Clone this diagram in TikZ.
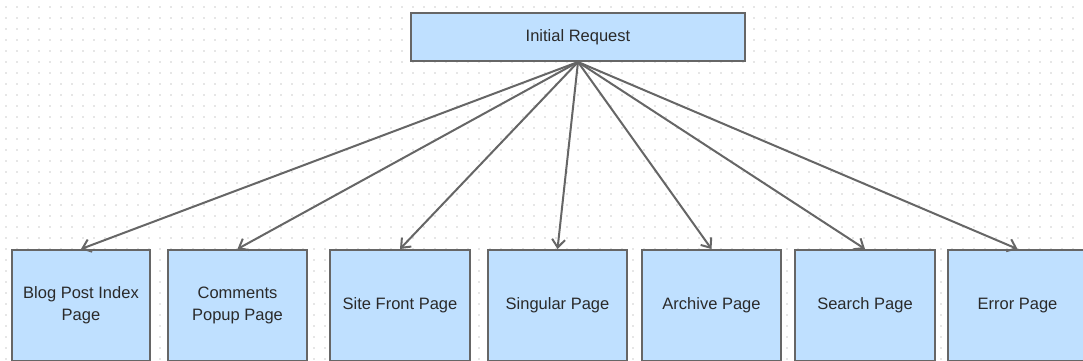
\documentclass[tikz,border=0pt]{standalone}
\usepackage{fontspec}
\setmainfont{Liberation Sans}
\usetikzlibrary{arrows.meta}
\definecolor{boxfill}{HTML}{BFE0FF}
\definecolor{edgec}{HTML}{666666}
\definecolor{textc}{HTML}{2A2A2A}
\definecolor{dotc}{HTML}{E6E6E6}
\begin{document}
\begin{tikzpicture}[x=1pt,y=-1pt,
  pagebox/.style={draw=edgec,fill=boxfill,line width=2pt,minimum height=111pt,
    anchor=north west,inner sep=0pt,align=center,text=textc,
    font=\fontsize{16.5}{22}\selectfont},
  topbox/.style={draw=edgec,fill=boxfill,line width=2pt,minimum width=334pt,
    minimum height=48pt,inner sep=0pt,text=textc,font=\fontsize{16.5}{22}\selectfont},
  link/.style={draw=edgec,line width=2pt,-{Straight Barb[length=8pt,width=13pt,line width=2pt]}}]
\clip (0,0) rectangle (1083,361);
\fill[white] (0,0) rectangle (1083,361);
\foreach \x in {6,17,...,1083}
  \foreach \y in {7,18,...,361}
    \fill[dotc] (\x-0.7,\y-0.7) rectangle ++(1.4,1.4);
\node[topbox] (req) at (578,37) {Initial Request};
\node[pagebox,minimum width=138pt] (b1) at (11,249) {Blog Post Index\\Page};
\node[pagebox,minimum width=139pt] (b2) at (167,249) {Comments\\Popup Page};
\node[pagebox,minimum width=140pt] (b3) at (329,249) {Site Front Page};
\node[pagebox,minimum width=139pt] (b4) at (487,249) {Singular Page};
\node[pagebox,minimum width=139pt] (b5) at (641,249) {Archive Page};
\node[pagebox,minimum width=140pt] (b6) at (794,249) {Search Page};
\node[pagebox,minimum width=139pt] (b7) at (947,249) {Error Page};
\foreach \b in {b1,b2,b3,b4,b5,b6,b7}
  \draw[link] (req.south) -- (\b.north);
\end{tikzpicture}
\end{document}
